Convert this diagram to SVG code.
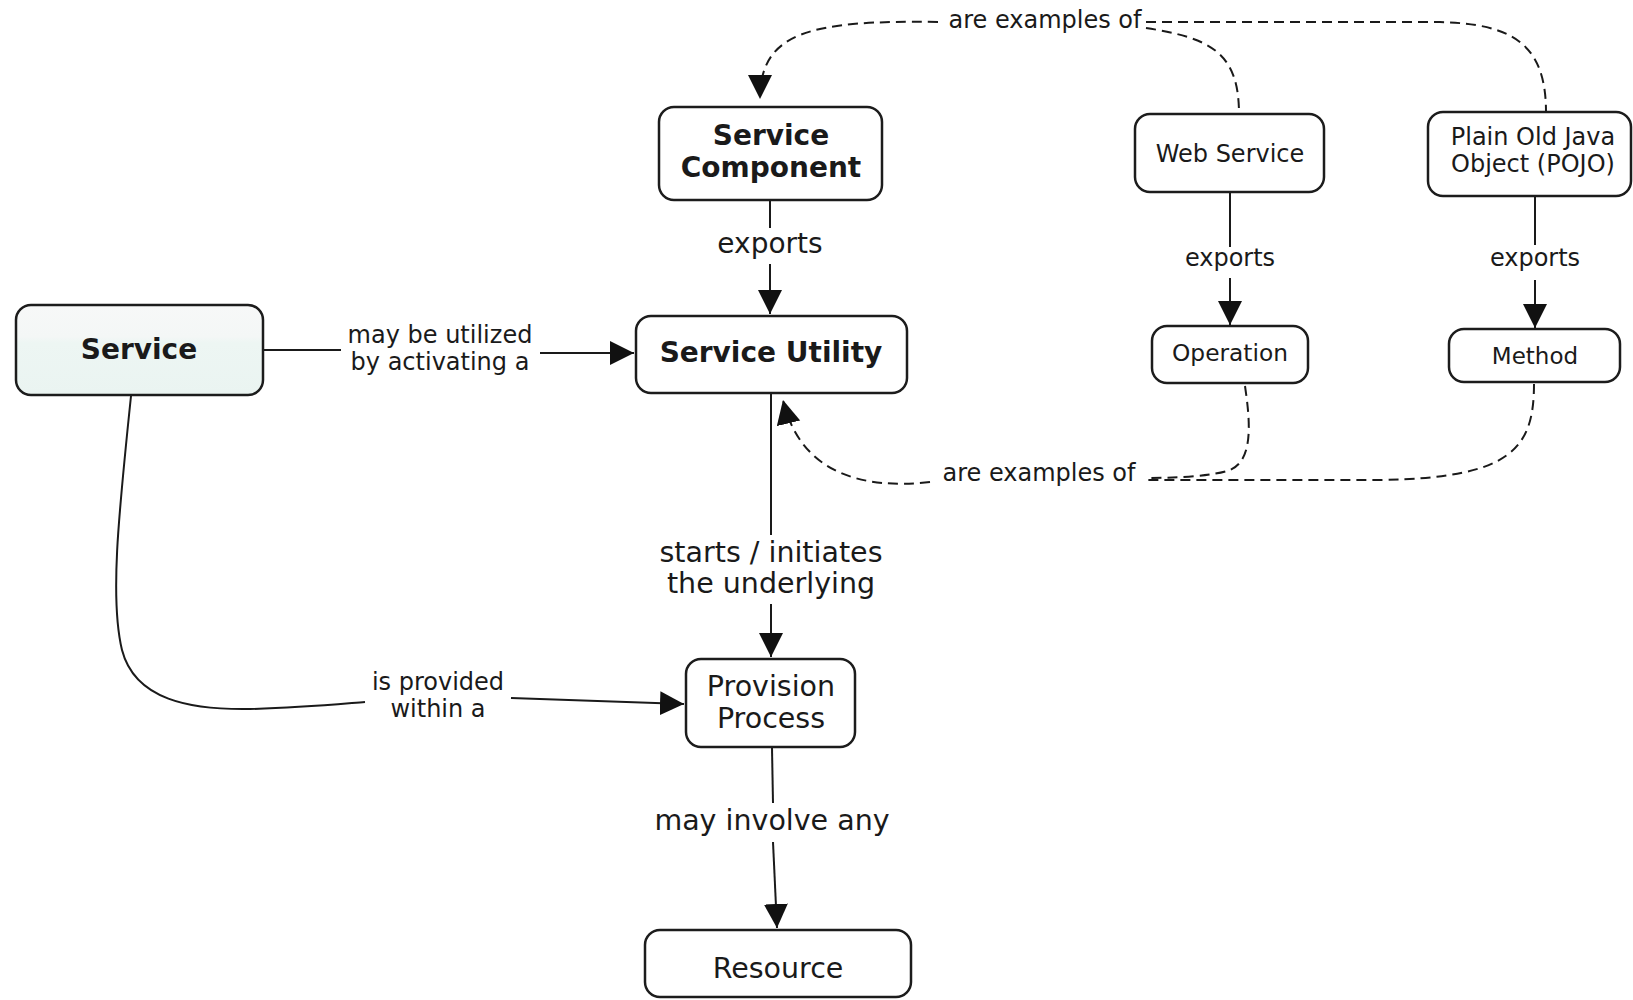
<svg xmlns="http://www.w3.org/2000/svg" width="1633" height="1000" viewBox="0 0 1633 1000">
  <style>
    .box { fill: #ffffff; stroke: #1c1c1c; stroke-width: 2.5; }
    .t { font-family: "DejaVu Sans", Verdana, sans-serif; fill: #1a1a1a; text-anchor: middle; }
    .b { font-weight: bold; font-size: 28px; }
    .n { font-size: 24px; }
    .l { font-size: 28.5px; }
    .s { font-size: 24px; }
    .line { fill: none; stroke: #1a1a1a; stroke-width: 2; }
    .dash { fill: none; stroke: #1a1a1a; stroke-width: 2; stroke-dasharray: 10 6; }
  </style>
  <defs>
    <marker id="arrow" markerUnits="userSpaceOnUse" markerWidth="26" markerHeight="26" refX="24" refY="12" orient="auto">
      <path d="M0,0 L24,12 L0,24 z" fill="#111111"/>
    </marker>
    <linearGradient id="serviceFill" x1="0" y1="0" x2="0" y2="1">
      <stop offset="0" stop-color="#f7f8f8"/>
      <stop offset="0.35" stop-color="#f4f7f6"/>
      <stop offset="0.42" stop-color="#edf6f3"/>
      <stop offset="1" stop-color="#eaf4f1"/>
    </linearGradient>
  </defs>

  <rect width="1633" height="1000" fill="#ffffff"/>

  <!-- connectors -->
  <g id="connectors">
    <!-- Service -> Service Utility -->
    <path class="line" d="M263 350 L341 350"/>
    <path class="line" d="M540 353 L634 353" marker-end="url(#arrow)"/>
    <!-- Service Component -> Service Utility -->
    <path class="line" d="M770 200 L770 228"/>
    <path class="line" d="M770 264 L770 314" marker-end="url(#arrow)"/>
    <!-- Web Service -> Operation -->
    <path class="line" d="M1230 192 L1230 247"/>
    <path class="line" d="M1230 278 L1230 325" marker-end="url(#arrow)"/>
    <!-- POJO -> Method -->
    <path class="line" d="M1535 196 L1535 245"/>
    <path class="line" d="M1535 280 L1535 328" marker-end="url(#arrow)"/>
    <!-- Service Utility -> Provision Process -->
    <path class="line" d="M771 393 L771 535"/>
    <path class="line" d="M771 604 L771 657" marker-end="url(#arrow)"/>
    <!-- Provision Process -> Resource -->
    <path class="line" d="M772 748 L773 803"/>
    <path class="line" d="M773 842 L777 928" marker-end="url(#arrow)"/>
    <!-- Service -> Provision Process -->
    <path class="line" d="M131 396 C118 520 110 600 122 650 C135 700 190 710 250 709 C300 708 340 704 365 702"/>
    <path class="line" d="M511 698 L684 704" marker-end="url(#arrow)"/>
    <!-- are examples of (top) -->
    <path class="dash" d="M938 22 C810 20 760 32 760 99" marker-end="url(#arrow)"/>
    <path class="dash" d="M1146 22 L1440 22 C1510 24 1546 42 1546 112"/>
    <path class="dash" d="M1146 28 C1210 38 1239 52 1239 114"/>
    <!-- are examples of (bottom) -->
    <path class="dash" d="M930 482 C860 490 800 472 783 400" marker-end="url(#arrow)"/>
    <path class="dash" d="M1245 386 C1250 420 1254 460 1230 470 C1210 477 1170 478 1146 478"/>
    <path class="dash" d="M1534 384 C1534 450 1510 478 1380 480 L1146 480"/>
  </g>

  <!-- link labels -->
  <g id="labels">
    <text class="t s" x="440" y="343">may be utilized</text>
    <text class="t s" x="440" y="370">by activating a</text>
    <text class="t l" x="770" y="253" style="font-size:28px">exports</text>
    <text class="t s" x="1230" y="266">exports</text>
    <text class="t s" x="1535" y="266">exports</text>
    <text class="t s" x="1045" y="28">are examples of</text>
    <text class="t s" x="1039" y="481">are examples of</text>
    <text class="t l" x="771" y="562">starts / initiates</text>
    <text class="t l" x="771" y="593">the underlying</text>
    <text class="t s" x="438" y="690">is provided</text>
    <text class="t s" x="438" y="717">within a</text>
    <text class="t l" x="772" y="830">may involve any</text>
  </g>

  <!-- nodes -->
  <g id="node-service">
    <rect class="box" x="16" y="305" width="247" height="90" rx="15" style="fill:url(#serviceFill)"/>
    <text class="t b" x="139" y="359">Service</text>
  </g>
  <g id="node-service-component">
    <rect class="box" x="659" y="107" width="223" height="93" rx="15"/>
    <text class="t b" x="771" y="145">Service</text>
    <text class="t b" x="771" y="177">Component</text>
  </g>
  <g id="node-service-utility">
    <rect class="box" x="636" y="316" width="271" height="77" rx="15"/>
    <text class="t b" x="771" y="362">Service Utility</text>
  </g>
  <g id="node-web-service">
    <rect class="box" x="1135" y="114" width="189" height="78" rx="15"/>
    <text class="t n" x="1230" y="162">Web Service</text>
  </g>
  <g id="node-pojo">
    <rect class="box" x="1428" y="112" width="203" height="84" rx="15"/>
    <text class="t n" x="1533" y="145">Plain Old Java</text>
    <text class="t n" x="1533" y="172">Object (POJO)</text>
  </g>
  <g id="node-operation">
    <rect class="box" x="1152" y="326" width="156" height="57" rx="15"/>
    <text class="t n" x="1230" y="361" style="font-size:23.3px">Operation</text>
  </g>
  <g id="node-method">
    <rect class="box" x="1449" y="329" width="171" height="53" rx="15"/>
    <text class="t n" x="1535" y="364" style="font-size:23px">Method</text>
  </g>
  <g id="node-provision-process">
    <rect class="box" x="686" y="659" width="169" height="88" rx="15"/>
    <text class="t l" x="771" y="696">Provision</text>
    <text class="t l" x="771" y="728">Process</text>
  </g>
  <g id="node-resource">
    <rect class="box" x="645" y="930" width="266" height="67" rx="15"/>
    <text class="t l" x="778" y="978">Resource</text>
  </g>
</svg>
